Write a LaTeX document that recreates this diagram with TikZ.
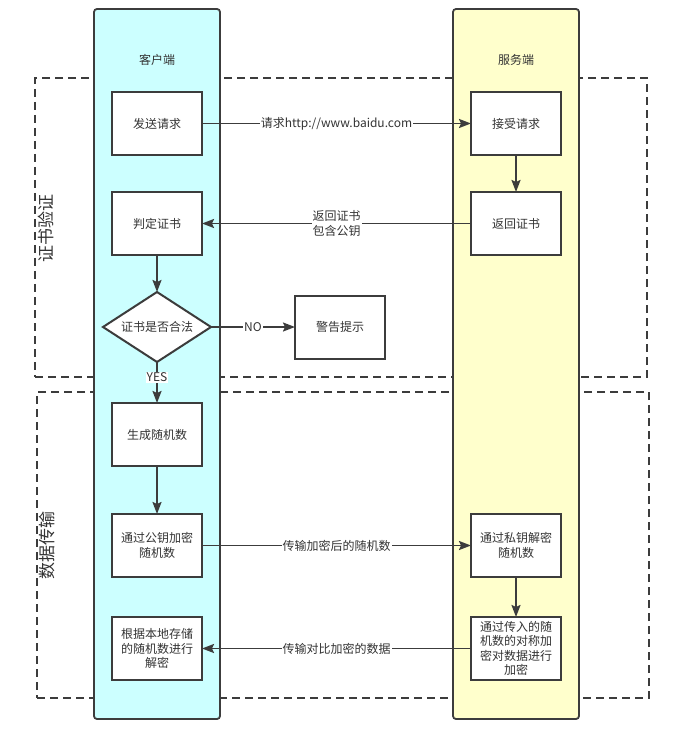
\documentclass[tikz,border=0pt]{standalone}
\usepackage{fontspec}
\setmainfont{Noto Sans CJK SC}
\usepackage{tikz}
\usetikzlibrary{shapes.geometric, arrows.meta, positioning}
\definecolor{lanecyan}{RGB}{204,255,255}
\definecolor{laneyellow}{RGB}{255,255,204}
\definecolor{linegray}{RGB}{60,60,60}
\definecolor{textgray}{RGB}{51,51,51}
\tikzset{
  %% ---- lanes and groups ----
  lane/.style   = {rectangle, rounded corners=3pt,
                   draw=linegray, line width=1.8pt, fill=#1,
                   minimum width=126pt, minimum height=710pt},
  lane/.default = lanecyan,
  group/.style  = {rectangle, draw=linegray, line width=1.6pt,
                   dash pattern=on 8pt off 5pt, inner sep=0pt},
  grouplabel/.style = {rotate=90, font=\fontsize{17}{20}\selectfont,
                   text=textgray},
  %% ---- boxes ----
  block/.style  = {rectangle, draw=linegray, line width=2pt,
                   fill=white, minimum width=90pt, minimum height=63pt,
                   align=center, outer sep=0pt, inner sep=1pt,
                   text=textgray},
  decision/.style = {diamond, aspect=1.5, draw=linegray, line width=2pt,
                   fill=white, minimum width=108pt, minimum height=70pt,
                   inner sep=3pt, outer sep=0pt, text=textgray},
  %% ---- arrows ----
  arrow/.style  = {-{Stealth[length=12pt, width=9pt, inset=2pt]},
                   line width=1.8pt, draw=linegray},
  msg/.style    = {fill=white, inner sep=1pt, text=textgray, align=center},
}

\begin{document}
\begin{tikzpicture}[x=1pt, y=-1pt, font=\fontsize{12}{14.5}\selectfont]
  \useasboundingbox (0,0) rectangle (679,735);

  %% Groups (behind the lanes)
  \node[group, minimum width=612pt, minimum height=299pt] (auth) at (341,227.5) {};
  \node[group, minimum width=612pt, minimum height=306pt] (data) at (343,545) {};
  \node[grouplabel] (authlabel) at (46,228) {证书验证};
  \node[grouplabel] (datalabel) at (47,545) {数据传输};

  %% Lanes
  \node[lane=lanecyan] (client) at (157,364) {};
  \node[lane=laneyellow] (server) at (516,364) {};
  \node[text=textgray] (clienttitle) at (157,60) {客户端};
  \node[text=textgray] (servertitle) at (516,60) {服务端};

  %% Client side
  \node[block] (send) at (157,123.5) {发送请求};
  \node[block, below=37pt of send] (judge) {判定证书};
  \node[decision, below=37pt of judge] (valid) {证书是否合法};
  \node[block, right=84pt of valid] (warn) {警告提示};
  \node[block, below=41pt of valid] (gen) {生成随机数};
  \node[block, below=48pt of gen] (enc) {通过公钥加密\\随机数};
  \node[block, below=40pt of enc] (dec) {根据本地存储\\的随机数进行\\解密};

  %% Server side
  \node[block, right=269pt of send] (recv) {接受请求};
  \node[block, below=37pt of recv] (reply) {返回证书};
  \node[block, right=269pt of enc] (sdec) {通过私钥解密\\随机数};
  \node[block, right=269pt of dec] (sencr) {通过传入的随\\机数的对称加\\密对数据进行\\加密};

  %% Arrows with labels
  \draw[arrow] (send) -- node[msg] {请求http://www.baidu.com} (recv);
  \draw[arrow] (recv) -- (reply);
  \draw[arrow] (reply) -- node[msg] {返回证书\\包含公钥} (judge);
  \draw[arrow] (judge) -- (valid);
  \draw[arrow] (valid) -- node[msg] {NO} (warn);
  \draw[arrow] (valid) -- node[msg, pos=0.37] {YES} (gen);
  \draw[arrow] (gen) -- (enc);
  \draw[arrow] (enc) -- node[msg] {传输加密后的随机数} (sdec);
  \draw[arrow] (sdec) -- (sencr);
  \draw[arrow] (sencr) -- node[msg] {传输对比加密的数据} (dec);

\end{tikzpicture}
\end{document}
